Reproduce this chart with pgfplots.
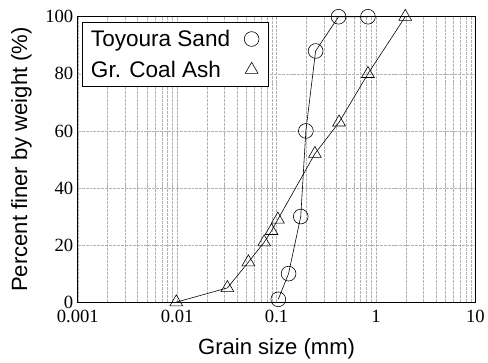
\documentclass[border=0pt]{standalone}
\usepackage{fontspec}
\setmainfont{Liberation Serif}
\newfontfamily\labelfont{Liberation Sans}
\usepackage{pgfplots}
\pgfplotsset{compat=1.18}

\begin{document}
\begin{tikzpicture}
\begin{axis}[
  xmode=log,
  log basis x=10,
  scale only axis,
  width=404bp, height=290bp,
  xmin=0.001, xmax=10,
  ymin=0, ymax=100,
  ytick={0,20,40,60,80,100},
  xtick={0.001,0.01,0.1,1,10},
  xticklabels={0.001,0.01,0.1,1,10},
  minor xtick={0.002,0.003,0.004,0.005,0.006,0.007,0.008,0.009,
               0.02,0.03,0.04,0.05,0.06,0.07,0.08,0.09,
               0.2,0.3,0.4,0.5,0.6,0.7,0.8,0.9,
               2,3,4,5,6,7,8,9},
  /pgf/number format/assume math mode=true,
  tick label style={font=\fontsize{19}{20}\selectfont},
  major tick length=0pt, minor tick length=0pt,
  xminorgrids=true, xmajorgrids=true, ymajorgrids=true,
  grid style={gray!60, line width=0.5pt, dash pattern=on 3pt off 1pt},
  minor grid style={gray!60, line width=0.5pt, dash pattern=on 3pt off 1pt},
  axis line style={black, line width=0.8pt},
  xticklabel style={yshift=-5bp},
  yticklabel style={xshift=-1bp},
  xlabel={\labelfont Grain size (mm)},
  ylabel={\labelfont Percent finer by weight (\%)},
  label style={font=\fontsize{22.5}{24}\selectfont},
  xlabel style={yshift=-9bp},
  ylabel style={yshift=7bp},
  legend plot pos=right,
  legend cell align=left,
  legend style={font=\labelfont\fontsize{23}{25}\selectfont, draw=black, line width=0.8pt,
    at={(0.01,0.982)}, anchor=north west, inner xsep=7bp, inner ysep=6bp,
    row sep=9bp},
  legend image code/.code={
    \path[draw=none] (0cm,0cm) -- (1.05cm,0cm);
    \draw plot[only marks] coordinates {(0.7cm,0cm)};},
]
\addplot[black, line width=0.6pt, mark=o, mark size=7.5bp,
  mark options={fill=white, line width=0.6pt}]
  coordinates {(0.104,1) (0.132,10) (0.175,30) (0.197,60) (0.247,88) (0.42,100) (0.83,100)};
\addlegendentry{Toyoura Sand}
\addplot[black, line width=0.6pt, mark=triangle, mark size=7.5bp,
  mark options={fill=white, line width=0.6pt}]
  coordinates {(0.0098,0) (0.032,5) (0.052,14) (0.075,21) (0.089,25) (0.103,29) (0.243,52) (0.425,63) (0.83,80) (1.97,100)};
\addlegendentry{Gr. Coal Ash}
\end{axis}
\path[use as bounding box] ([shift={(-79bp,-55bp)}]current axis.south west)
  rectangle ([shift={(5bp,17bp)}]current axis.north east);
\end{tikzpicture}
\end{document}
